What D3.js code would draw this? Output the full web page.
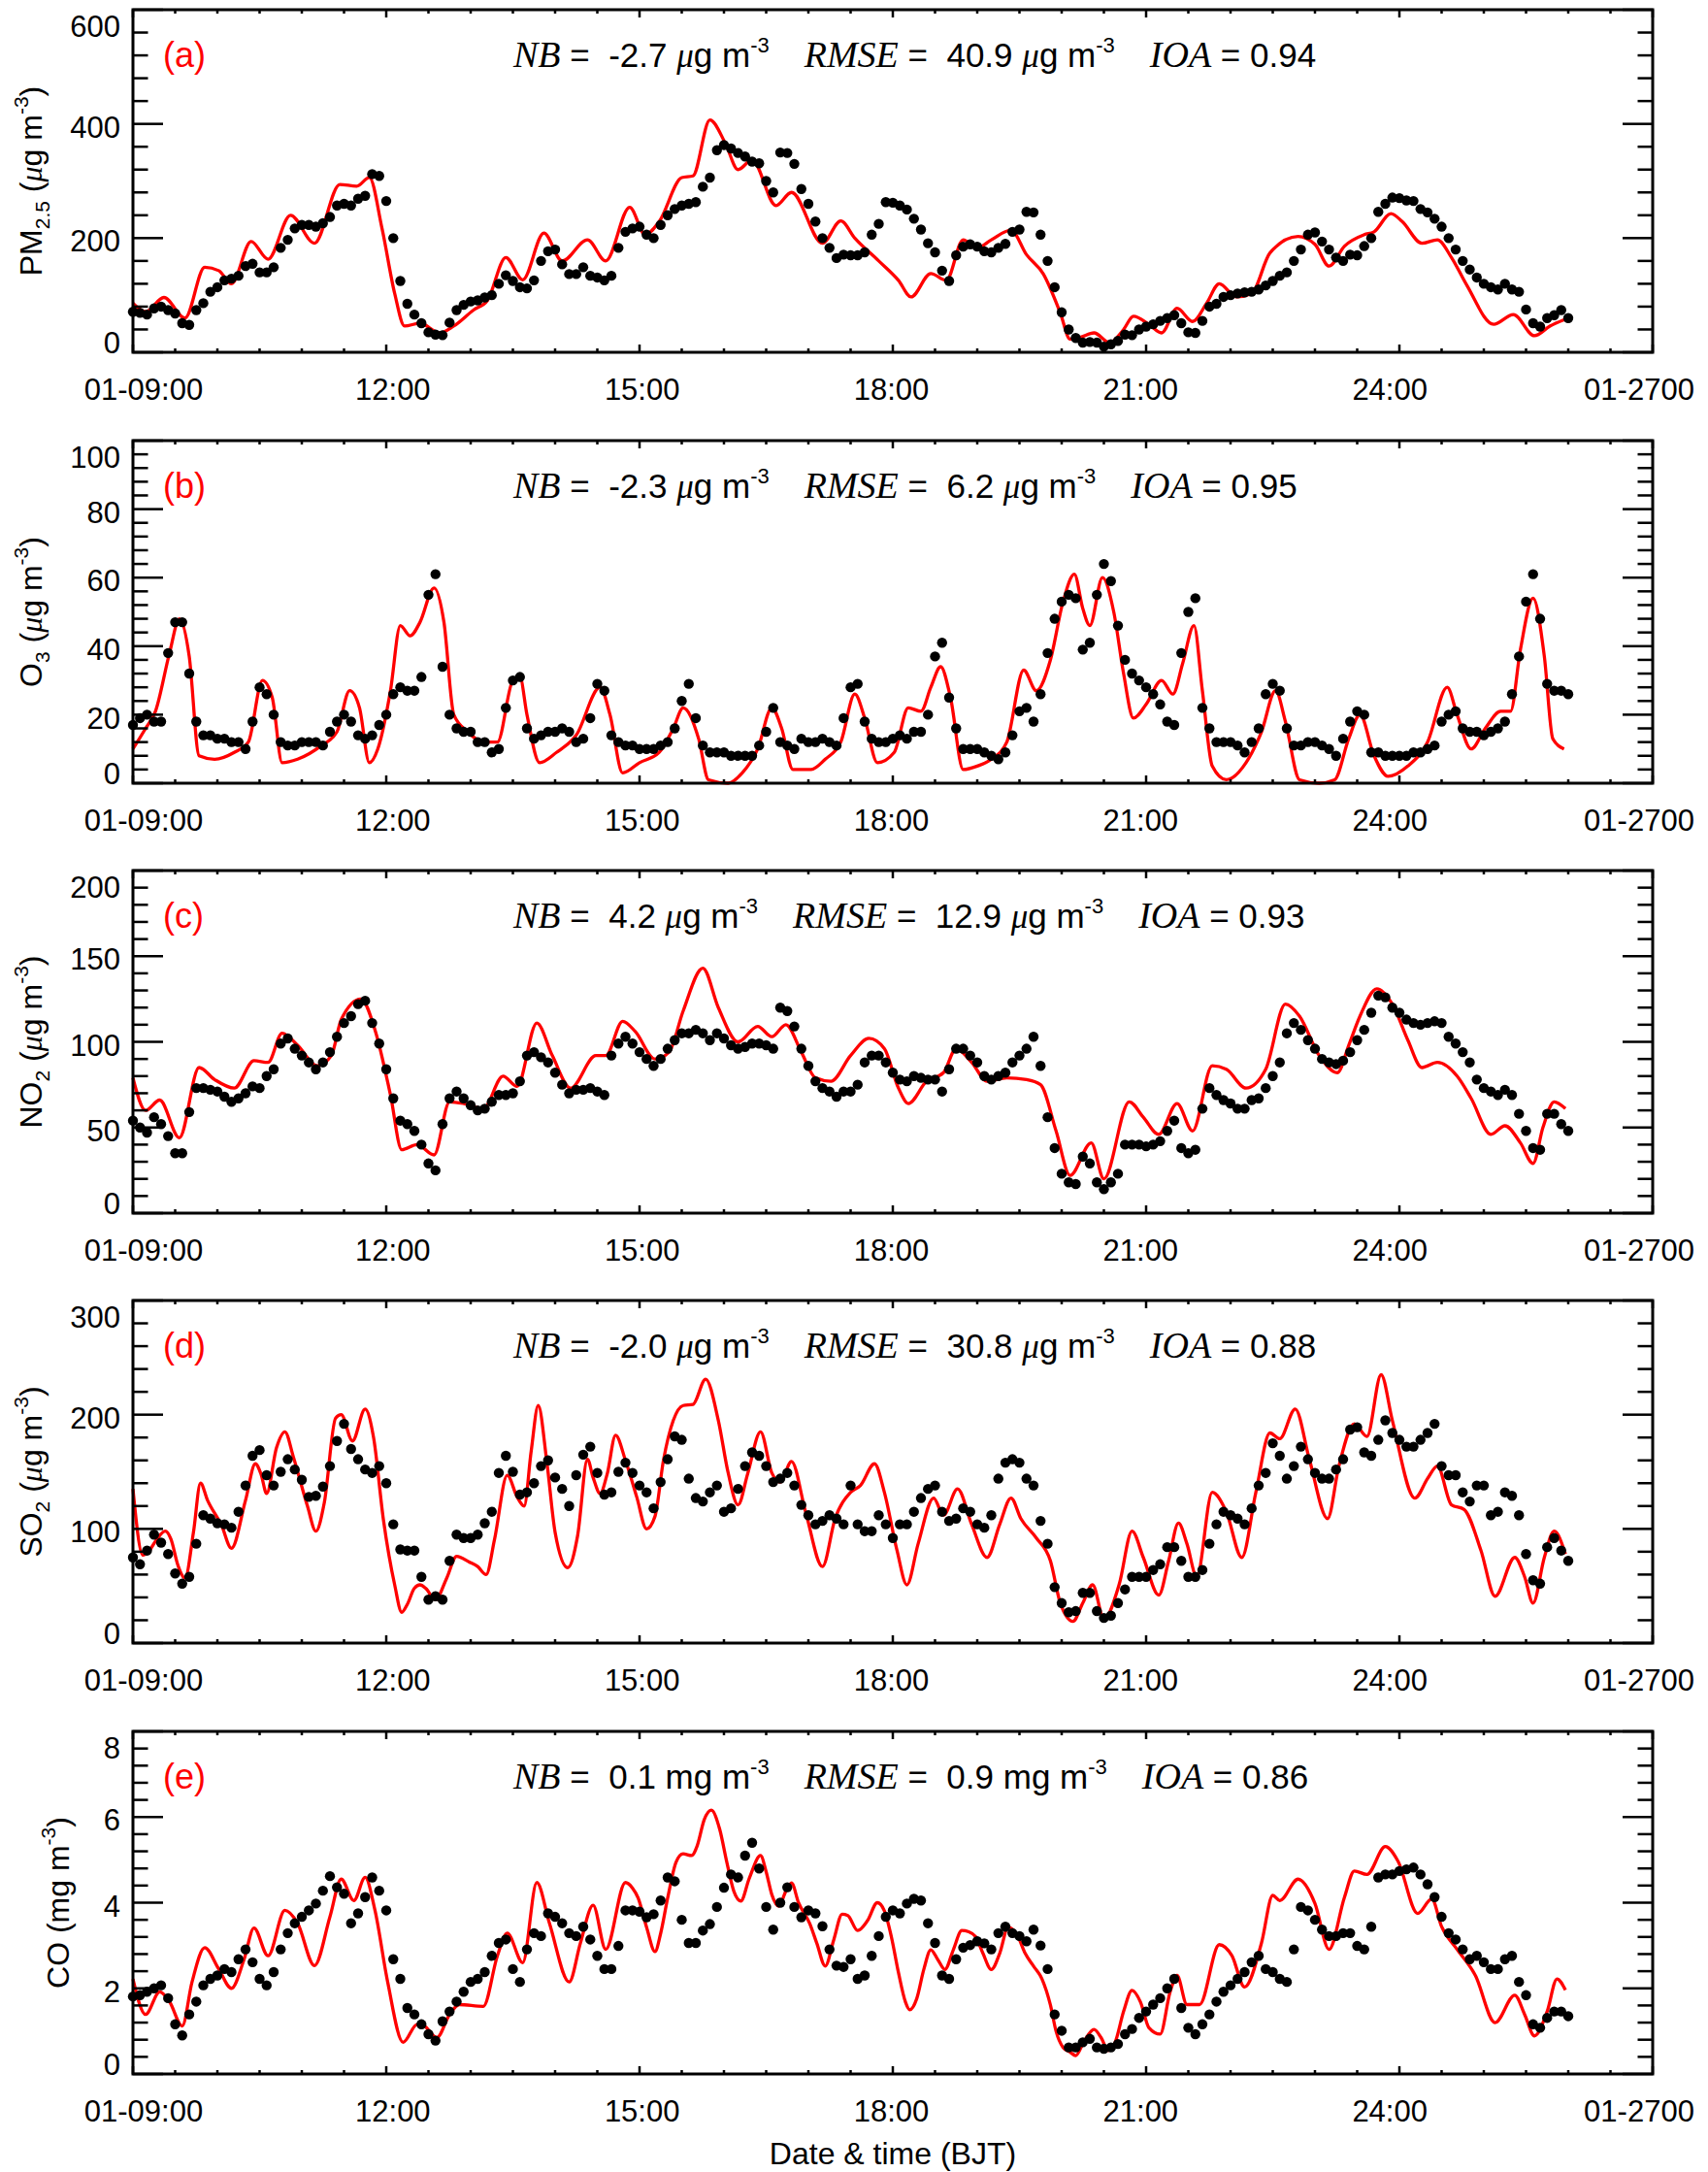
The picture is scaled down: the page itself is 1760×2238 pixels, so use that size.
<!DOCTYPE html>
<html>
<head>
<meta charset="utf-8">
<script src="https://cdn.jsdelivr.net/npm/d3@7"></script>
<style>
  html, body { margin: 0; padding: 0; background: #fff; }
  svg { display: block; }
  text { white-space: pre; }
</style>
</head>
<body>
<svg id="chart" width="1760" height="2238"></svg>
<script>
// time axis, in minutes after 01-09:00
const timeTicks = [0, 180, 360, 540, 720, 900, 1080];
const timeTickLabels = ['01-09:00', '12:00', '15:00', '18:00', '21:00', '24:00', '01-2700'];
// observations: one set at 09:00, 09:10 ... 25:50 and one in between (09:05, 09:15 ... 25:45)
const obsMinutesA = d3.range(0, 1030, 10);
const obsMinutesB = d3.range(5, 1020, 10);

// observed (black dots)
const pm25ObsA = [71,66,80,68,48,86,114,129,151,140, 149,197,223,220,237,260,269,312,265,125,
  66,35,30,74,89,96,120,125,112,160, 180,137,149,131,134,211,220,200,240,257,
  263,306,363,349,334,300,350,330,260,200, 165,170,175,225,262,250,215,175,125,185,
  185,175,190,215,245,160,70,25,18,10, 20,30,45,55,65,35,55,85,100,105,
  110,125,140,180,210,180,160,170,200,260, 270,265,245,220,180,145,120,110,110,75,
  45,65,60];
const pm25ObsB = [69,77,74,51,74,106,126,134,155,140, 183,217,223,226,257,257,274,309,200,85,
  51,31,52,83,91,100,135,114,126,177, 154,137,134,126,183,217,206,223,251,260,
  290,354,357,343,331,280,349,286,229,183, 171,170,206,263,257,234,191,143,170,189,
  177,183,211,246,206,114,40,17,17,14, 31,40,49,60,51,34,80,97,103,106,
  117,134,160,206,194,166,171,186,246,271, 266,251,234,200,160,131,114,120,106,51,
  60,74];
const o3ObsA = [17,20,18,47,32,14,13,12,10,28, 20,11,12,12,15,20,14,14,20,28,
  27,55,34,16,15,12,10,30,16,14, 15,15,13,29,14,11,10,10,12,24,
  19,9,9,8,8,15,12,10,12,13, 11,28,18,12,13,13,15,37,25,10,
  10,8,9,21,18,38,53,54,41,64, 46,32,28,23,17,50,22,12,12,9,
  16,29,16,11,12,10,13,21,9,8, 8,9,10,18,21,15,14,16,26,53,
  48,27,26];
const o3ObsB = [19,18,38,47,18,14,13,12,18,26, 12,11,12,11,18,18,13,17,26,27,
  31,61,20,15,12,9,22,31,13,15, 16,12,19,27,12,11,10,11,16,29,
  11,9,8,8,11,22,11,13,12,12, 19,29,13,12,14,15,20,41,16,10,
  9,7,14,22,26,48,55,39,55,59, 36,30,26,18,38,54,16,12,11,12,
  26,27,11,12,11,8,18,20,9,8, 8,9,11,20,16,15,15,18,37,61,
  29,27];
const no2ObsA = [54,47,52,35,59,73,71,65,70,73, 84,102,92,84,94,111,122,111,84,54,
  48,29,52,71,63,61,69,70,92,91, 82,70,72,71,92,103,94,86,96,105,
  107,101,102,96,99,98,120,109,86,73, 68,71,88,92,82,77,79,78,84,96,
  88,78,82,92,103,56,23,17,29,14, 23,40,39,42,54,35,61,69,64,61,
  67,80,105,107,96,88,89,101,117,126, 117,111,111,111,99,88,73,69,69,48,
  37,58,48];
const no2ObsB = [50,56,45,35,73,72,68,67,74,80, 99,96,88,88,103,115,124,99,67,52,
  40,25,67,67,60,65,69,77,94,88, 75,72,73,69,99,99,90,90,101,105,
  105,105,98,97,99,96,118,96,77,71, 71,75,92,88,78,80,78,71,96,92,
  80,80,88,96,86,38,18,33,18,18, 40,40,40,48,38,37,73,66,61,66,
  73,88,111,101,90,87,94,107,127,120, 113,110,112,103,94,78,71,72,58,38,
  58,52];
const so2ObsA = [75,81,88,61,58,112,105,101,138,169, 138,161,143,129,155,192,161,149,140,82,
  81,38,38,95,92,105,149,150,132,155, 145,120,165,149,132,158,138,118,161,178,
  127,132,115,135,167,155,144,138,112,107, 109,138,98,112,92,104,127,138,107,118,
  104,112,158,158,138,87,35,28,44,22, 35,58,58,69,84,58,64,104,112,104,
  138,175,144,172,149,144,161,189,164,195, 178,172,184,155,147,124,138,115,129,78,
  52,92,72];
const so2ObsB = [69,95,78,52,87,109,104,115,164,147, 150,152,128,137,177,170,152,155,104,81,
  58,41,72,92,95,115,164,130,140,160, 135,147,172,130,150,149,132,141,181,144,
  124,138,118,155,164,141,149,121,104,112, 104,104,98,104,104,115,135,115,109,115,
  101,144,161,144,107,49,27,44,28,24, 47,58,64,84,72,58,87,115,109,118,
  149,164,155,161,144,152,187,167,178,184, 172,178,192,147,132,138,112,132,112,55,
  84,81];
const coObsA = [1.81,1.92,2.07,1.16,1.39,2.07,2.30,2.38,2.91,2.22, 2.38,3.29,3.67,3.98,4.62,4.21,3.75,4.59,3.82,2.22,
  1.39,0.93,1.23,1.69,2.15,2.38,3.06,2.45,2.91,3.22, 3.67,3.29,3.44,2.76,2.45,3.82,3.79,3.73,4.59,3.6,
  3.06,3.5,4.35,4.59,5.4,3.90,4.0,3.90,3.82,3.45, 2.53,2.68,2.30,3.22,3.82,3.98,4.05,3.06,2.22,2.95,
  3.1,2.91,3.44,3.22,3.37,2.45,1.01,0.62,0.82,0.59, 0.70,1.05,1.46,1.77,2.22,1.08,1.16,1.69,2.07,2.38,
  2.76,2.38,2.15,3.90,3.60,3.22,3.29,2.99,3.44,4.66, 4.74,4.82,4.43,3.67,3.14,2.68,2.61,2.45,2.76,1.84,
  1.08,1.46,1.35];
const coObsB = [1.84,2.0,1.77,0.9,1.69,2.22,2.45,2.68,2.61,2.07, 2.91,3.52,3.82,4.28,4.36,3.52,4.13,4.28,2.68,1.54,
  1.16,0.78,1.46,1.92,2.22,2.76,3.14,2.15,3.29,3.75, 3.52,3.22,3.14,2.45,2.99,3.82,3.66,4.05,4.5,3.06,
  3.35,3.9,4.66,5.1,4.8,3.37,4.36,3.66,3.75,2.91, 2.5,2.22,2.76,3.67,3.75,4.09,3.52,2.30,2.68,3.01,
  3.05,3.29,3.29,3.1,3.0,1.39,0.62,0.74,0.62,0.62, 0.93,1.31,1.62,2.0,1.54,0.93,1.39,1.92,2.22,2.61,
  2.45,2.22,2.91,3.82,3.37,3.22,3.29,2.91,4.59,4.66, 4.78,4.66,4.13,3.29,2.91,2.76,2.45,2.68,2.15,1.16,
  1.31,1.46];

// model (red line), [minutes after 09:00, value]
const pm25Mod = [[0,86],[9,71],[22,96],[37,60],[51,149],[61,143],[70,120],[84,194],[96,163],[112,240],
  [129,191],[147,294],[159,291],[168,306],[177,217],[186,103],[193,46],[204,51],[218,34],[228,46],
  [242,74],[252,91],[265,166],[277,127],[292,209],[305,160],[323,197],[336,160],[353,254],[364,206],
  [374,229],[390,306],[398,309],[410,407],[421,366],[430,320],[440,337],[457,257],[468,280],[490,191],
  [503,230],[513,200],[530,160],[544,126],[553,97],[567,138],[578,126],[590,197],[600,183],[610,197],
  [624,214],[635,171],[647,137],[659,69],[666,23],[673,26],[683,34],[694,17],[704,40],[711,63],
  [722,49],[731,34],[742,77],[753,54],[763,86],[772,120],[784,97],[795,103],[808,174],[828,203],
  [840,189],[850,151],[861,186],[875,206],[882,211],[894,243],[902,229],[916,191],[927,197],[937,166],
  [948,117],[967,49],[981,66],[996,29],[1007,46],[1017,57]];
const o3Mod = [[0,10],[9,16],[16,21],[26,38],[33,48],[40,37],[47,8],[58,7],[72,9],[82,12],
  [92,30],[99,25],[106,6],[117,7],[134,11],[145,15],[154,27],[161,22],[168,6],[174,10],
  [183,27],[190,46],[197,43],[204,47],[214,57],[221,47],[228,20],[238,15],[249,12],[259,12],
  [270,30],[275,31],[280,20],[289,6],[301,9],[315,14],[332,28],[339,20],[348,3],[360,6],
  [374,9],[384,16],[391,22],[402,13],[409,1],[423,0],[433,3],[444,10],[454,22],[461,16],
  [469,4],[482,4],[492,7],[503,12],[513,26],[520,19],[529,6],[541,9],[551,22],[560,21],
  [567,28],[574,34],[581,25],[590,4],[600,5],[610,7],[621,12],[633,33],[642,27],[652,36],
  [661,53],[669,61],[675,51],[680,46],[689,60],[697,50],[704,32],[711,19],[720,23],[731,30],
  [739,26],[746,35],[754,46],[760,27],[767,5],[777,1],[791,6],[802,15],[812,27],[819,18],
  [829,1],[843,0],[854,1],[864,13],[872,20],[882,8],[892,2],[906,5],[920,12],[934,28],
  [941,20],[951,10],[961,16],[972,21],[979,21],[986,39],[995,54],[1003,37],[1009,13],[1017,10]];
const no2Mod = [[0,79],[9,60],[19,66],[33,44],[47,85],[58,78],[72,73],[86,89],[96,88],[106,105],
  [117,98],[131,86],[141,92],[148,113],[162,125],[172,107],[183,69],[191,37],[202,40],[214,34],
  [225,65],[235,64],[249,61],[263,80],[273,74],[287,111],[298,92],[311,73],[329,92],[336,92],
  [348,112],[357,106],[371,90],[381,94],[391,118],[405,143],[416,120],[430,100],[444,109],[454,103],
  [464,110],[475,94],[485,79],[496,77],[510,92],[523,102],[534,96],[544,73],[551,64],[564,77],
  [576,82],[585,96],[596,88],[607,77],[621,79],[635,78],[645,75],[656,48],[666,22],[681,41],
  [690,20],[708,65],[718,56],[729,46],[742,64],[753,48],[767,86],[777,84],[791,73],[805,84],
  [819,122],[829,115],[843,92],[856,82],[864,98],[872,115],[884,131],[895,122],[906,101],[916,85],
  [927,88],[941,80],[951,67],[965,46],[975,51],[986,41],[995,29],[1002,50],[1010,65],[1018,61]];
const so2Mod = [[0,135],[7,77],[11,80],[17,91],[23,98],[27,91],[32,68],[37,57],[43,97],[48,140],
  [53,125],[63,103],[70,83],[80,125],[87,157],[91,148],[95,131],[102,171],[108,185],[114,163],
  [124,120],[130,98],[136,123],[144,197],[148,200],[156,177],[165,205],[171,180],[178,108],[186,51],
  [191,27],[195,34],[200,48],[204,51],[208,48],[215,38],[223,57],[230,76],[239,71],[245,67],
  [251,60],[257,91],[266,147],[273,128],[278,120],[283,168],[288,208],[294,160],[300,97],[309,66],
  [316,94],[323,161],[327,145],[332,131],[337,148],[343,182],[350,160],[358,128],[365,100],[371,111],
  [377,160],[384,195],[391,208],[398,209],[407,231],[416,195],[423,149],[430,121],
  [437,149],[446,185],[454,149],[460,141],[468,159],[478,115],[490,67],[499,109],[510,132],[517,138],
  [527,157],[534,132],[543,81],[550,51],[558,87],[569,127],[576,112],[586,135],[596,104],[607,75],
  [616,104],[624,127],[631,109],[642,92],[652,72],[659,35],[668,19],[675,35],[682,51],[690,21],
  [701,52],[710,98],[718,75],[729,42],[736,72],[743,105],[749,87],[756,58],[767,132],[777,115],
  [788,75],[798,132],[808,184],[815,179],[826,205],[836,161],[849,109],[857,155],[868,192],[877,181],
  [887,235],[895,195],[911,127],[920,144],[927,155],[937,121],[946,117],[958,81],[968,41],[982,75],
  [989,58],[995,35],[1003,75],[1010,98],[1018,78]];
const coMod = [[0,2.22],[9,1.39],[19,1.92],[26,1.69],[35,1.12],[42,2.15],[51,2.95],[61,2.45],[70,2.0],[79,2.68],
  [86,3.41],[96,2.76],[108,3.82],[117,3.52],[129,2.53],[140,3.67],[148,4.55],[157,4.05],[165,4.59],[172,3.82],
  [181,2.15],[192,0.74],[202,1.16],[207,1.12],[216,0.85],[225,1.39],[232,1.62],[249,1.58],[259,2.76],[266,3.29],
  [277,2.6],[287,4.47],[296,3.52],[310,2.15],[318,3.06],[327,3.94],[336,2.91],[350,4.47],
  [355,4.34],[359,4.11],[365,3.43],[371,2.86],[375,3.28],[380,4.11],[386,4.95],[391,5.14],[397,5.10],[401,5.33],
  [406,5.94],[411,6.16],[417,5.71],[422,4.95],[427,4.27],[432,4.04],[438,4.57],[446,5.10],[450,4.72],[454,4.19],
  [459,3.92],[464,4.27],[468,4.46],[473,4.0],[481,3.51],[486,3.05],[492,2.52],[498,3.13],[504,3.73],[508,3.70],
  [515,3.35],[522,3.58],[529,4.0],[534,3.81],[539,3.20],[544,2.37],[549,1.68],[552,1.50],[557,1.76],[562,2.44],
  [567,2.90],[572,2.67],[577,2.44],[583,2.90],[589,3.35],[594,3.32],[599,3.20],[604,2.82],[610,2.44],[616,2.82],
  [622,3.43],[629,3.20],[634,2.82],[640,2.52],[646,2.22],[652,1.61],[656,1.0],[661,0.62],[666,0.51],[670,0.43],
  [676,0.77],[683,1.04],[688,0.85],[693,0.55],[698,0.74],[704,1.46],[710,1.95],[716,1.68],[722,1.08],[730,0.93],
  [737,1.91],[742,2.30],[749,1.62],[758,1.62],[772,3.02],[781,2.76],[790,2.03],[802,3.06],[810,4.17],[815,4.05],
  [828,4.55],[840,3.98],[850,2.91],[861,4.13],[868,4.74],[877,4.66],[890,5.31],[899,4.97],[913,3.75],[923,4.09],
  [930,3.44],[941,2.91],[954,2.30],[968,1.20],[982,1.84],[989,1.39],[996,0.89],[1005,1.46],[1012,2.22],[1018,1.96]];

// statistics printed in each panel
const statNB = ['-2.7', '-2.3', '4.2', '-2.0', '0.1'];
const statRMSE = ['40.9', '6.2', '12.9', '30.8', '0.9'];
const statIOA = ['0.94', '0.95', '0.93', '0.88', '0.86'];
const statUnit = ['μg', 'μg', 'μg', 'μg', 'mg'];

// species, axis range and tick steps
const panels = [
  {tag: '(a)', name: 'PM', sub: '2.5', obsA: pm25ObsA, obsB: pm25ObsB, mod: pm25Mod, max: 600, major: 200, minor: 40},
  {tag: '(b)', name: 'O', sub: '3', obsA: o3ObsA, obsB: o3ObsB, mod: o3Mod, max: 100, major: 20, minor: 4},
  {tag: '(c)', name: 'NO', sub: '2', obsA: no2ObsA, obsB: no2ObsB, mod: no2Mod, max: 200, major: 50, minor: 10},
  {tag: '(d)', name: 'SO', sub: '2', obsA: so2ObsA, obsB: so2ObsB, mod: so2Mod, max: 300, major: 100, minor: 20},
  {tag: '(e)', name: 'CO', sub: null, obsA: coObsA, obsB: coObsB, mod: coMod, max: 8, major: 2, minor: 0.4}
];

// layout
const SANS = "'Liberation Sans', Arial, Helvetica, sans-serif";
const SERIF = "'Liberation Serif', 'Times New Roman', serif";
const LEFT = 137;
const RIGHT = 1703;
const PANEL_TOPS = [10, 454, 897, 1340, 1784];
const PANEL_H = 353;
const TITLE_X = [43, 43, 43, 43, 71];

const svg = d3.select('#chart');

/**
 * appends a text element made of runs (plain, italic serif, sub/superscripts)
 */
function addRuns(parent, runs, baseSize) {
  const t = parent.append('text').attr('fill', '#000');
  runs.forEach(r => {
    t.append('tspan')
      .attr('font-family', r.serif ? SERIF : SANS)
      .attr('font-style', r.serif ? 'italic' : 'normal')
      .attr('font-size', r.size || baseSize)
      .attr('dy', r.dy || 0)
      .text(r.t);
  });
  return t;
}

function unitRuns(unit) {
  if (unit === 'μg') {
    return [{t: ' '}, {t: 'μ', serif: true}, {t: 'g m'}, {t: '-3', size: 22, dy: -15}];
  }
  return [{t: ' mg m'}, {t: '-3', size: 22, dy: -15}];
}

/**
 * the NB / RMSE / IOA line at the top of a panel
 */
function drawStats(g, idx, top) {
  const base = top + 59;
  const groups = [
    [{t: 'NB', serif: true, size: 38}, {t: ' =  '}, {t: statNB[idx]}].concat(unitRuns(statUnit[idx])),
    [{t: 'RMSE', serif: true, size: 38}, {t: ' =  '}, {t: statRMSE[idx]}].concat(unitRuns(statUnit[idx])),
    [{t: 'IOA', serif: true, size: 38}, {t: ' = '}, {t: statIOA[idx]}]
  ];
  let x = 529;
  groups.forEach(runs => {
    const t = addRuns(g, runs, 35).attr('x', x).attr('y', base);
    x += t.node().getComputedTextLength() + 36;
  });
}

function drawPanel(p, idx) {
  const top = PANEL_TOPS[idx];
  const bottom = top + PANEL_H;
  const x = d3.scaleLinear().domain([0, 1080]).range([LEFT, RIGHT]);
  const y = d3.scaleLinear().domain([0, p.max]).range([bottom, top]);
  // tick labels sit a little right of the ticks in the original
  const xLabel = d3.scaleLinear().domain([0, 1080]).range([148, 1689]);
  const g = svg.append('g').attr('class', 'panel');

  // model
  g.append('path')
    .datum(p.mod)
    .attr('fill', 'none')
    .attr('stroke', '#ff0000')
    .attr('stroke-width', 3.3)
    .attr('stroke-linejoin', 'round')
    .attr('d', d3.line().x(d => x(d[0])).y(d => y(d[1])).curve(d3.curveMonotoneX));

  // observations
  const obs = p.obsA.map((v, i) => [obsMinutesA[i], v])
    .concat(p.obsB.map((v, i) => [obsMinutesB[i], v]));
  g.selectAll('circle.obs')
    .data(obs)
    .join('circle')
    .attr('class', 'obs')
    .attr('cx', d => x(d[0]))
    .attr('cy', d => y(d[1]))
    .attr('r', 5.2)
    .attr('fill', '#000');

  // frame
  g.append('rect')
    .attr('x', LEFT)
    .attr('y', top)
    .attr('width', RIGHT - LEFT)
    .attr('height', PANEL_H)
    .attr('fill', 'none')
    .attr('stroke', '#000')
    .attr('stroke-width', 3);

  // x ticks, every 30 min, long ones every 3 h, on bottom and top
  const xt = d3.range(0, 1081, 30);
  xt.forEach(t => {
    const len = t % 180 === 0 ? 8 : 4;
    g.append('line').attr('x1', x(t)).attr('x2', x(t)).attr('y1', bottom).attr('y2', bottom - len)
      .attr('stroke', '#000').attr('stroke-width', 2.5);
    g.append('line').attr('x1', x(t)).attr('x2', x(t)).attr('y1', top).attr('y2', top + len)
      .attr('stroke', '#000').attr('stroke-width', 2.5);
  });

  // y ticks on left and right
  const n = Math.round(p.max / p.minor);
  const per = Math.round(p.major / p.minor);
  d3.range(n + 1).forEach(k => {
    const v = k * p.minor;
    const len = k % per === 0 ? 31 : 15.5;
    g.append('line').attr('x1', LEFT).attr('x2', LEFT + len).attr('y1', y(v)).attr('y2', y(v))
      .attr('stroke', '#000').attr('stroke-width', 2.5);
    g.append('line').attr('x1', RIGHT).attr('x2', RIGHT - len).attr('y1', y(v)).attr('y2', y(v))
      .attr('stroke', '#000').attr('stroke-width', 2.5);
  });

  // y tick labels, the end ones pulled inside the frame
  const majors = d3.range(0, Math.round(p.max / p.major) + 1).map(k => k * p.major);
  g.selectAll('text.ylab')
    .data(majors)
    .join('text')
    .attr('class', 'ylab')
    .attr('x', 124)
    .attr('y', v => Math.max(top + 17, Math.min(bottom - 10, y(v) + 3)))
    .attr('dy', '0.36em')
    .attr('text-anchor', 'end')
    .attr('font-family', SANS)
    .attr('font-size', 31)
    .text(v => d3.format('d')(v));

  // x tick labels
  g.selectAll('text.xlab')
    .data(timeTicks)
    .join('text')
    .attr('class', 'xlab')
    .attr('x', t => xLabel(t))
    .attr('y', bottom + 49)
    .attr('text-anchor', 'middle')
    .attr('font-family', SANS)
    .attr('font-size', 31)
    .text((t, i) => timeTickLabels[i]);

  // panel tag
  g.append('text')
    .attr('x', 168)
    .attr('y', top + 59)
    .attr('font-family', SANS)
    .attr('font-size', 36)
    .attr('fill', '#ff0000')
    .text(p.tag);

  drawStats(g, idx, top);

  // y title, rotated
  let runs;
  if (p.sub) {
    runs = [{t: p.name}, {t: p.sub, size: 21, dy: 8}, {t: ' (', dy: -8}, {t: 'μ', serif: true}, {t: 'g m'},
      {t: '-3', size: 21, dy: -14}, {t: ')', dy: 14}];
  } else {
    runs = [{t: p.name + ' (mg m'}, {t: '-3', size: 21, dy: -14}, {t: ')', dy: 14}];
  }
  addRuns(g, runs, 32)
    .attr('text-anchor', 'middle')
    .attr('transform', `translate(${TITLE_X[idx]},${(top + bottom) / 2}) rotate(-90)`);
}

panels.forEach(drawPanel);

svg.append('text')
  .attr('x', (LEFT + RIGHT) / 2)
  .attr('y', 2230)
  .attr('text-anchor', 'middle')
  .attr('font-family', SANS)
  .attr('font-size', 32)
  .text('Date & time (BJT)');
</script>
</body>
</html>
